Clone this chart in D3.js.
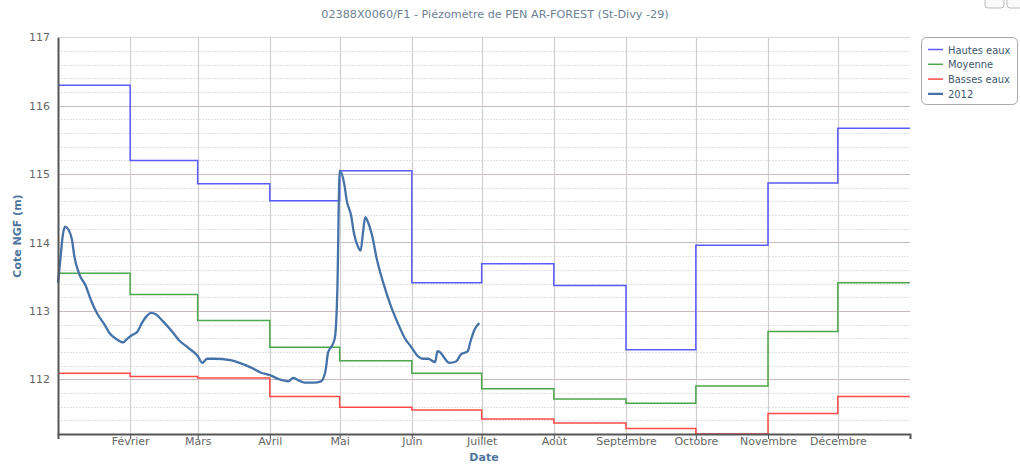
<!DOCTYPE html>
<html>
<head>
<meta charset="utf-8">
<script src="https://cdn.jsdelivr.net/npm/d3@7"></script>
<style>
  html, body { margin: 0; padding: 0; background: #fff; }
  svg { display: block; font-family: "DejaVu Sans", Verdana, sans-serif; }
</style>
</head>
<body>
<svg id="chart" width="1020" height="464"></svg>
<script>
// ---------- DATA ----------
const title = "02388X0060/F1 - Piézomètre de PEN AR-FOREST (St-Divy -29)";
const monthNames = ["Janvier", "Février", "Mars", "Avril", "Mai", "Juin", "Juillet", "Août", "Septembre", "Octobre", "Novembre", "Décembre"];
const yTicks = [112, 113, 114, 115, 116, 117];

const hautesEaux = [116.30, 115.20, 114.86, 114.61, 115.05, 113.41, 113.69, 113.37, 112.43, 113.96, 114.87, 115.67];
const moyenne    = [113.55, 113.24, 112.86, 112.47, 112.27, 112.09, 111.86, 111.71, 111.65, 111.90, 112.70, 113.41];
const bassesEaux = [112.09, 112.04, 112.02, 111.75, 111.59, 111.55, 111.42, 111.36, 111.28, 111.20, 111.50, 111.75];

const dates2012 = ["2012-01-01","2012-01-02","2012-01-03","2012-01-04","2012-01-05","2012-01-07","2012-01-08","2012-01-10","2012-01-13","2012-01-15","2012-01-18","2012-01-21","2012-01-23","2012-01-26","2012-01-29","2012-01-30",
  "2012-02-02","2012-02-04","2012-02-06","2012-02-08","2012-02-10","2012-02-12","2012-02-15","2012-02-19","2012-02-22","2012-02-26",
  "2012-03-01","2012-03-03","2012-03-05","2012-03-08","2012-03-15","2012-03-19","2012-03-24","2012-03-28",
  "2012-04-01","2012-04-05","2012-04-09","2012-04-11","2012-04-13","2012-04-16","2012-04-20","2012-04-23","2012-04-25","2012-04-26","2012-04-28","2012-04-29","2012-04-30",
  "2012-05-01","2012-05-03","2012-05-04","2012-05-06","2012-05-07","2012-05-09","2012-05-10","2012-05-11","2012-05-12","2012-05-13","2012-05-15","2012-05-17","2012-05-20","2012-05-23","2012-05-26","2012-05-29",
  "2012-06-01","2012-06-03","2012-06-06","2012-06-08","2012-06-11","2012-06-12","2012-06-13","2012-06-15","2012-06-17","2012-06-20","2012-06-22","2012-06-25","2012-06-26","2012-06-28","2012-06-30"];
const values2012 = [113.41,113.75,114.09,114.23,114.21,114.04,113.80,113.55,113.36,113.17,112.95,112.80,112.68,112.59,112.54,112.57,
  112.65,112.69,112.82,112.92,112.97,112.95,112.85,112.70,112.57,112.46,
  112.34,112.24,112.30,112.30,112.28,112.24,112.17,112.10,
  112.06,112.00,111.97,112.02,111.99,111.95,111.95,111.97,112.14,112.39,112.51,112.62,113.30,
  115.05,114.85,114.62,114.38,114.16,113.93,113.88,114.14,114.37,114.31,114.09,113.75,113.38,113.07,112.82,112.60,
  112.46,112.36,112.30,112.30,112.25,112.41,112.40,112.31,112.24,112.26,112.36,112.41,112.53,112.73,112.82];

const series = [
  { name: "Hautes eaux", values: hautesEaux, color: "#5a5aff" },
  { name: "Moyenne",     values: moyenne,    color: "#4ca64c" },
  { name: "Basses eaux", values: bassesEaux, color: "#ff4a4a" }
];
const color2012 = "#4572a7";

// ---------- LAYOUT ----------
const svg = d3.select("#chart");
const plotLeft = 58, plotRight = 910, plotTop = 37.3, plotBottom = 434;

const x = d3.scaleTime()
  .domain([new Date(2012, 0, 1), new Date(2013, 0, 1)])
  .range([plotLeft, plotRight]);
const y = d3.scaleLinear().domain([111.2, 117]).range([plotBottom, plotTop]);

const monthStarts = d3.range(12).map(m => new Date(2012, m, 1));

// minor horizontal grid
const minor = d3.range(111.2, 117.001, 0.2).map(v => Math.round(v * 10) / 10).filter(v => Math.abs(v - Math.round(v)) > 0.01);
svg.append("g").selectAll("line").data(minor).join("line")
  .attr("x1", plotLeft).attr("x2", plotRight)
  .attr("y1", d => Math.round(y(d)) + 0.5).attr("y2", d => Math.round(y(d)) + 0.5)
  .attr("stroke", "#dfe2e2").attr("stroke-width", 1).attr("stroke-dasharray", "2,1");

// major horizontal grid
svg.append("g").selectAll("line").data(yTicks).join("line")
  .attr("x1", plotLeft).attr("x2", plotRight)
  .attr("y1", d => Math.round(y(d)) + 0.5).attr("y2", d => Math.round(y(d)) + 0.5)
  .attr("stroke", d => d === 117 ? "#d8d8d8" : "#c9b9c1").attr("stroke-width", 1);

// vertical grid
svg.append("g").selectAll("line").data(monthStarts.slice(1)).join("line")
  .attr("x1", d => Math.round(x(d)) + 0.5).attr("x2", d => Math.round(x(d)) + 0.5)
  .attr("y1", plotTop).attr("y2", plotBottom)
  .attr("stroke", "#cfcfcf").attr("stroke-width", 1.2);

// step series
const stepLine = d3.line().x(d => x(d[0])).y(d => y(d[1])).curve(d3.curveStepAfter);
series.forEach(s => {
  const pts = s.values.map((v, i) => [monthStarts[i], v]);
  pts.push([new Date(2013, 0, 1), s.values[11]]);
  svg.append("path").datum(pts)
    .attr("d", stepLine)
    .attr("fill", "none").attr("stroke", s.color).attr("stroke-width", 1.5);
});

// 2012 series
const parse = d3.timeParse("%Y-%m-%d");
const pts2012 = dates2012.map((d, i) => [parse(d), values2012[i]]);
svg.append("path").datum(pts2012)
  .attr("d", d3.line().x(d => x(d[0])).y(d => y(d[1])).curve(d3.curveMonotoneX))
  .attr("fill", "none").attr("stroke", color2012).attr("stroke-width", 2.3)
  .attr("stroke-linejoin", "round");

// axes
const xAxis = d3.axisBottom(x).tickValues(monthStarts.slice(1))
  .tickFormat(d => monthNames[d.getMonth()]).tickSize(5).tickPadding(-2);
const gx = svg.append("g").attr("transform", `translate(0,${plotBottom})`).call(xAxis);
gx.select(".domain").attr("stroke", "#555").attr("stroke-width", 2);
gx.selectAll(".tick line").attr("stroke", "#555");
gx.selectAll(".tick text").attr("fill", "#666").attr("font-size", "11px")
  .attr("font-family", "'DejaVu Sans', Verdana, sans-serif");

const yAxis = d3.axisLeft(y).tickValues(yTicks).tickFormat(d3.format("d")).tickSize(0).tickPadding(8);
const gy = svg.append("g").attr("transform", `translate(${plotLeft},0)`).call(yAxis);
gy.select(".domain").attr("stroke", "#555").attr("stroke-width", 2);
gy.selectAll(".tick text").attr("fill", "#666").attr("font-size", "11px")
  .attr("font-family", "'DejaVu Sans', Verdana, sans-serif");

// titles
svg.append("text").attr("x", 495).attr("y", 18).attr("text-anchor", "middle")
  .attr("fill", "#6d7f94").attr("font-size", "11.2px").text(title);
svg.append("text").attr("transform", "translate(21,236) rotate(-90)").attr("text-anchor", "middle")
  .attr("fill", "#4d759e").attr("font-size", "11px").attr("font-weight", "bold").text("Cote NGF (m)");
svg.append("text").attr("x", 484).attr("y", 461).attr("text-anchor", "middle")
  .attr("fill", "#4d759e").attr("font-size", "11px").attr("font-weight", "bold").text("Date");

// export buttons (partially visible)
svg.append("rect").attr("x", 985).attr("y", -12).attr("width", 19).attr("height", 20).attr("rx", 3)
  .attr("fill", "#fafafa").attr("stroke", "#bbb");
svg.append("rect").attr("x", 1007).attr("y", -12).attr("width", 19).attr("height", 20).attr("rx", 3)
  .attr("fill", "#fafafa").attr("stroke", "#bbb");

// legend
const legendItems = series.map(s => ({ name: s.name, color: s.color })).concat([{ name: "2012", color: color2012 }]);
const lg = svg.append("g");
lg.append("rect").attr("x", 921.5).attr("y", 37.5).attr("width", 96).attr("height", 67).attr("rx", 5)
  .attr("fill", "#fff").attr("stroke", "#a8a8a8").attr("stroke-width", 1);
legendItems.forEach((it, i) => {
  const yy = 49.5 + i * 14.8;
  lg.append("line").attr("x1", 928).attr("x2", 943).attr("y1", yy).attr("y2", yy)
    .attr("stroke", it.color).attr("stroke-width", i === 3 ? 2.3 : 1.5);
  lg.append("text").attr("x", 948).attr("y", yy + 4).attr("fill", "#3e576f")
    .attr("font-family", "'DejaVu Sans Condensed', 'DejaVu Sans', sans-serif")
    .attr("font-size", "11px").text(it.name);
});
</script>
</body>
</html>
